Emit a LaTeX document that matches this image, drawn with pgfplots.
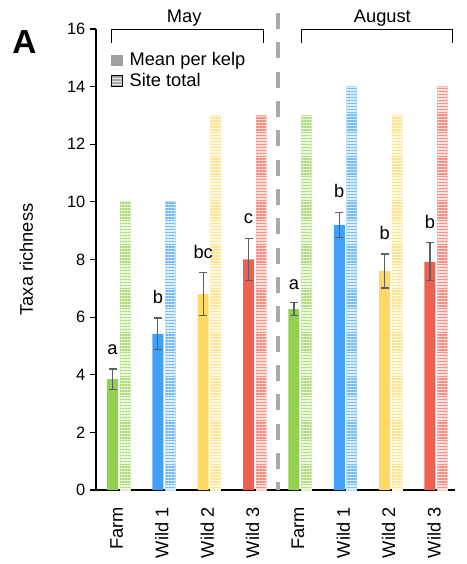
\documentclass[border=0pt]{standalone}
\usepackage{fontspec}
\setmainfont{Liberation Sans}
\usepackage{pgfplots}
\pgfplotsset{compat=1.18}
\usetikzlibrary{patterns.meta}

\definecolor{cgreen}{RGB}{146,208,80}
\definecolor{cblue}{RGB}{66,160,250}
\definecolor{cyellow}{RGB}{255,217,102}
\definecolor{cred}{RGB}{240,96,80}
\definecolor{errgray}{RGB}{95,95,95}
\definecolor{divgray}{RGB}{170,170,170}

\newcommand{\lbl}{\fontsize{13.7}{16}\selectfont}
\newcommand{\tck}{\fontsize{12.3}{14}\selectfont}

\pgfplotsset{
  meanbar/.style={ybar, bar shift=0pt, bar width=0.243, draw=none, fill=#1, forget plot,
    error bars/.cd, y dir=both, y explicit,
    error bar style={errgray, line width=0.9pt},
    error mark options={errgray, rotate=90, mark size=3pt, line width=0.9pt}},
  totalbase/.style={ybar, bar shift=0pt, bar width=0.22, draw=#1!30, line width=0.6pt, fill=#1!18, forget plot},
  totallines/.style={ybar, bar shift=0pt, bar width=0.22, draw=none, forget plot,
    pattern={Lines[angle=0, distance=2.2pt, line width=1.05pt]}, pattern color=#1!75},
}

\begin{document}
\begin{tikzpicture}
\useasboundingbox (-72pt,-55.5pt) rectangle (278.25pt,367.5pt);
\begin{axis}[
  at={(0,0)}, anchor=south west,
  scale only axis, width=269.25pt, height=345.75pt,
  xmin=-0.364, xmax=7.552, ymin=0, ymax=16,
  axis x line=bottom, axis y line=left,
  axis line style={-, line width=1pt},
  clip=false,
  ytick={0,2,...,16},
  yticklabel style={font=\tck},
  tick align=outside, major tick length=4.5pt,
  ytick style={line width=0.8pt, black},
  xtick={0.09,1.09,2.09,3.09,4.09,5.09,6.09,7.09},
  xticklabels={Farm,Wild 1,Wild 2,Wild 3,Farm,Wild 1,Wild 2,Wild 3},
  xtick style={draw=none},
  xticklabel style={font=\lbl, rotate=90, anchor=east, xshift=-5pt},
  /pgf/number format/assume math mode=true,
  ylabel={Taxa richness},
  every axis y label/.style={at={(axis description cs:-0.1755,0.5)}, rotate=90, anchor=base, font=\lbl},
  legend style={draw=none, fill=none, at={(axis cs:-0.03,15.28)}, anchor=north west,
    font=\lbl, inner sep=0pt, row sep=0pt, column sep=3pt},
  legend cell align=left,
]
% legend entries
\addlegendimage{legend image code/.code={\fill[gray!75] (0pt,-4.1pt) rectangle (8.25pt,4.1pt);}}
\addlegendentry{Mean per kelp}
\addlegendimage{legend image code/.code={
  \fill[gray!18] (0pt,-4.1pt) rectangle (8.25pt,4.1pt);
  \fill[pattern={Lines[angle=0, distance=2.2pt, line width=1.05pt]}, pattern color=gray!70] (0pt,-4.1pt) rectangle (8.25pt,4.1pt);}}
\addlegendentry{Site total}

% site totals (hatched)
\addplot[totalbase=cgreen]  coordinates {(0.276,10) (4.276,13)};
\addplot[totallines=cgreen] coordinates {(0.276,10) (4.276,13)};
\addplot[totalbase=cblue]   coordinates {(1.276,10) (5.276,14)};
\addplot[totallines=cblue]  coordinates {(1.276,10) (5.276,14)};
\addplot[totalbase=cyellow] coordinates {(2.276,13) (6.276,13)};
\addplot[totallines=cyellow] coordinates {(2.276,13) (6.276,13)};
\addplot[totalbase=cred]    coordinates {(3.276,13) (7.276,14)};
\addplot[totallines=cred]   coordinates {(3.276,13) (7.276,14)};

% mean per kelp with standard errors
\addplot[meanbar=cgreen]  coordinates {(0,3.85) +- (0,0.35) (4,6.28) +- (0,0.23)};
\addplot[meanbar=cblue]   coordinates {(1,5.42) +- (0,0.55) (5,9.20) +- (0,0.44)};
\addplot[meanbar=cyellow] coordinates {(2,6.80) +- (0,0.74) (6,7.60) +- (0,0.59)};
\addplot[meanbar=cred]    coordinates {(3,8.00) +- (0,0.74) (7,7.92) +- (0,0.66)};

% significance letters
\node[anchor=base, font=\lbl] at (axis cs:0,4.72) {a};
\node[anchor=base, font=\lbl] at (axis cs:1,6.47) {b};
\node[anchor=base, font=\lbl] at (axis cs:2,8.03) {bc};
\node[anchor=base, font=\lbl] at (axis cs:3,9.25) {c};
\node[anchor=base, font=\lbl] at (axis cs:4,6.95) {a};
\node[anchor=base, font=\lbl] at (axis cs:5,10.14) {b};
\node[anchor=base, font=\lbl] at (axis cs:6,8.69) {b};
\node[anchor=base, font=\lbl] at (axis cs:7,9.07) {b};

% month divider
\draw[divgray, line width=3pt, dash pattern=on 12pt off 10pt] (axis cs:3.65,16.56) -- (axis cs:3.65,0);

% month brackets
\draw[line width=0.75pt] (axis cs:-0.03,15.51) -- (axis cs:-0.03,15.97) -- (axis cs:3.32,15.97) -- (axis cs:3.32,15.51);
\draw[line width=0.75pt] (axis cs:4.16,15.51) -- (axis cs:4.16,15.97) -- (axis cs:7.49,15.97) -- (axis cs:7.49,15.51);
\node[anchor=base, font=\lbl] at (axis cs:1.58,16.24) {May};
\node[anchor=base, font=\lbl] at (axis cs:5.95,16.24) {August};
\end{axis}
\node[anchor=base west, inner sep=0pt, font=\fontsize{25}{30}\selectfont\bfseries] at (-63pt,327pt) {A};
\end{tikzpicture}
\end{document}
